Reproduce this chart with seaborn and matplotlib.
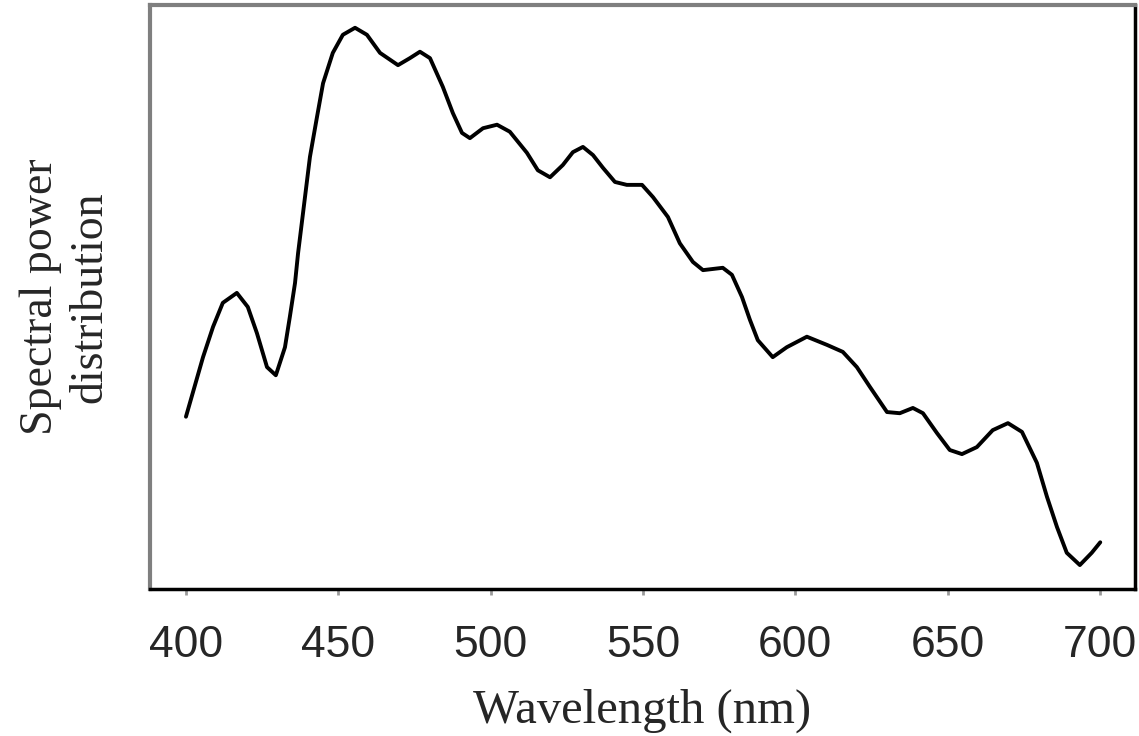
import matplotlib
matplotlib.use("Agg")
import matplotlib.pyplot as plt
import seaborn as sns
import pandas as pd

# Wavelength (nm) and relative spectral power
wavelength = [400.0, 405.6, 408.9, 412.1, 416.7, 420.3, 423.3, 426.6, 429.5, 432.5,
              434.1, 435.8, 436.8, 440.7, 443.0, 445.0, 448.2, 451.5, 455.5, 459.4,
              463.7, 469.6, 473.5, 476.8, 480.1, 484.3, 487.6, 490.6, 493.2, 497.5,
              502.1, 506.3, 511.9, 515.5, 519.5, 523.7, 527.0, 530.3, 533.6, 536.9,
              540.8, 544.7, 549.7, 553.3, 558.2, 562.1, 566.4, 569.7, 576.2, 579.2,
              582.5, 585.1, 587.7, 592.6, 597.2, 603.8, 610.4, 615.6, 620.2, 624.5,
              630.1, 634.3, 638.6, 641.9, 646.5, 650.7, 654.7, 659.6, 664.8, 669.8,
              674.4, 679.3, 682.6, 685.9, 689.1, 693.4, 697.3, 700.1]
power = [0.295, 0.397, 0.449, 0.490, 0.507, 0.483, 0.438, 0.380, 0.366, 0.414,
         0.466, 0.524, 0.575, 0.740, 0.808, 0.866, 0.918, 0.949, 0.961, 0.949,
         0.918, 0.897, 0.909, 0.920, 0.909, 0.860, 0.815, 0.781, 0.772, 0.789,
         0.795, 0.783, 0.747, 0.717, 0.705, 0.726, 0.748, 0.757, 0.743, 0.721,
         0.697, 0.692, 0.692, 0.671, 0.637, 0.592, 0.560, 0.546, 0.550, 0.538,
         0.500, 0.461, 0.426, 0.397, 0.414, 0.432, 0.418, 0.406, 0.380, 0.346,
         0.303, 0.301, 0.310, 0.301, 0.267, 0.238, 0.231, 0.243, 0.272, 0.284,
         0.269, 0.216, 0.158, 0.106, 0.062, 0.041, 0.062, 0.080]
xticks = [400, 450, 500, 550, 600, 650, 700]

df = pd.DataFrame({"wavelength": wavelength, "power": power})

sns.set_theme(style="white")
fig = plt.figure(figsize=(11.39, 7.36), dpi=100)
ax = fig.add_axes([150/1139, 147/736, 985/1139, 584/736])

sns.lineplot(data=df, x="wavelength", y="power", ax=ax, color="black",
             linewidth=2.8, sort=False, solid_joinstyle="round",
             solid_capstyle="round")

ax.set_xlim(388.2, 711.5)
ax.set_ylim(0.0, 1.0)
ax.set_xticks(xticks)
ax.set_xticklabels([str(t) for t in xticks], fontsize=32,
                   family=["Liberation Sans", "DejaVu Sans"])
ax.set_yticks([])
ax.tick_params(axis="x", which="both", direction="out", length=4, width=2,
               color="#9a9a9a", pad=22, bottom=True)

for side in ["left", "top"]:
    ax.spines[side].set_color("#7f7f7f")
    ax.spines[side].set_linewidth(3)
for side in ["bottom", "right"]:
    ax.spines[side].set_color("black")
    ax.spines[side].set_linewidth(2.5)

ax.set_xlabel("Wavelength (nm)", fontsize=35,
              family=["Liberation Serif", "DejaVu Serif"], labelpad=16)
ax.set_ylabel("Spectral power\ndistribution", fontsize=33,
              family=["Liberation Serif", "DejaVu Serif"], labelpad=28,
              linespacing=1.2)

fig.savefig("out.png", dpi=100)
